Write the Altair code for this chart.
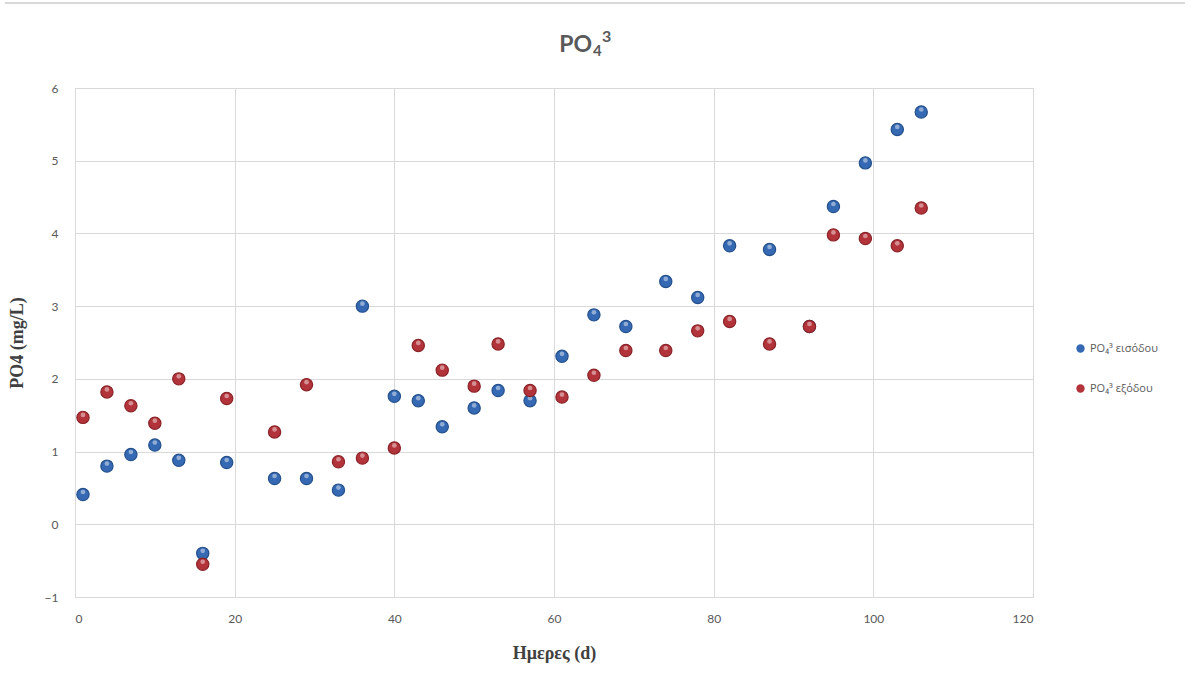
import altair as alt
import pandas as pd

days = [1, 4, 7, 10, 13, 16, 19, 25, 29, 33, 36, 40, 43, 46, 50, 53, 57, 61, 65, 69,
        74, 78, 82, 87, 92, 95, 99, 103, 106]
inlet = [0.41, 0.80, 0.96, 1.09, 0.88, -0.40, 0.85, 0.63, 0.63, 0.47, 3.00, 1.76, 1.70,
         1.34, 1.60, 1.84, 1.70, 2.31, 2.88, 2.72, 3.34, 3.12, 3.83, 3.78, 2.72, 4.37,
         4.97, 5.43, 5.67]
outlet = [1.47, 1.82, 1.63, 1.39, 2.00, -0.55, 1.73, 1.27, 1.92, 0.86, 0.91, 1.05, 2.46,
          2.12, 1.90, 2.48, 1.84, 1.75, 2.05, 2.39, 2.39, 2.66, 2.79, 2.48, 2.72, 3.98,
          3.93, 3.83, 4.35]

title_main = ["PO"]
title_sub = ["4"]
title_sup = ["3"]
series_names = ["PO\u2084\u00b3 εισόδου", "PO\u2084\u00b3 εξόδου"]
series_colors = ["#3569B3", "#B3333A"]
series_strokes = ["#24508C", "#8A2328"]
x_ticks = [0, 20, 40, 60, 80, 100, 120]
y_ticks = [-1, 0, 1, 2, 3, 4, 5, 6]

df_in = pd.DataFrame({"day": days, "value": inlet, "series": series_names[0]})
df_out = pd.DataFrame({"day": days, "value": outlet, "series": series_names[1]})

grey = "#595959"
label_font = "Lato"

x_enc = alt.X("day:Q", scale=alt.Scale(domain=[0, 120], nice=False),
              axis=alt.Axis(values=x_ticks, format="d", title="Ημερες (d)", grid=True,
                            gridColor="#D9D9D9", domain=False, ticks=False,
                            labelColor=grey, labelFont=label_font, labelFontSize=12,
                            labelPadding=16, titleFont="Liberation Serif",
                            titleFontSize=18, titleFontWeight="bold",
                            titleColor="#404040", titlePadding=20))
y_enc = alt.Y("value:Q", scale=alt.Scale(domain=[-1, 6], nice=False),
              axis=alt.Axis(values=y_ticks, format="d", title="PO4 (mg/L)", grid=True,
                            gridColor="#D9D9D9", domain=False, ticks=False,
                            labelColor=grey, labelFont=label_font, labelFontSize=12,
                            labelPadding=17, titleFont="Liberation Serif",
                            titleFontSize=18, titleFontWeight="bold",
                            titleColor="#404040", titlePadding=18))

color_enc = alt.Color("series:N",
                      scale=alt.Scale(domain=series_names, range=series_colors),
                      legend=alt.Legend(title=None, orient="none", legendX=1000,
                                        legendY=255, symbolType="circle",
                                        symbolSize=70, labelFont="Open Sans",
                                        labelFontSize=11, labelColor=grey,
                                        rowPadding=28, symbolStrokeWidth=0))


def series_layers(df, i):
    base = alt.Chart(df).mark_circle(size=150, opacity=1,
                                     stroke=series_strokes[i], strokeWidth=1.2).encode(
        x=x_enc, y=y_enc, color=color_enc)
    hl = alt.Chart(df).mark_circle(size=22, color="white", opacity=0.45,
                                   yOffset=-2.5).encode(x="day:Q", y="value:Q")
    return [base, hl]


top_line = alt.Chart(pd.DataFrame({"a": [0]})).mark_rule(
    color="#D9D9D9", strokeWidth=2, clip=False).encode(
    x=alt.value(-70), x2=alt.value(1110), y=alt.value(-85))


def title_piece(txt, size, align, xv, yv):
    return alt.Chart(pd.DataFrame({"t": txt})).mark_text(
        font=label_font, fontSize=size, fontWeight="bold", color=grey,
        align=align, baseline="alphabetic", clip=False).encode(
        text="t:N", x=alt.value(xv), y=alt.value(yv))


chart = alt.layer(
    top_line,
    title_piece(title_main, 23, "right", 517, -36),
    title_piece(title_sub, 15, "left", 518, -32),
    title_piece(title_sup, 16, "left", 527, -46),
    *series_layers(df_in, 0),
    *series_layers(df_out, 1),
).properties(
    width=958,
    height=509,
    padding={"left": 75, "top": 88, "right": 170, "bottom": 78},
    autosize=alt.AutoSizeParams(type="none"),
).configure_view(stroke="#D9D9D9", strokeWidth=1).configure(background="white")

chart.save("out.html", embed_options={"renderer": "svg", "actions": False})
